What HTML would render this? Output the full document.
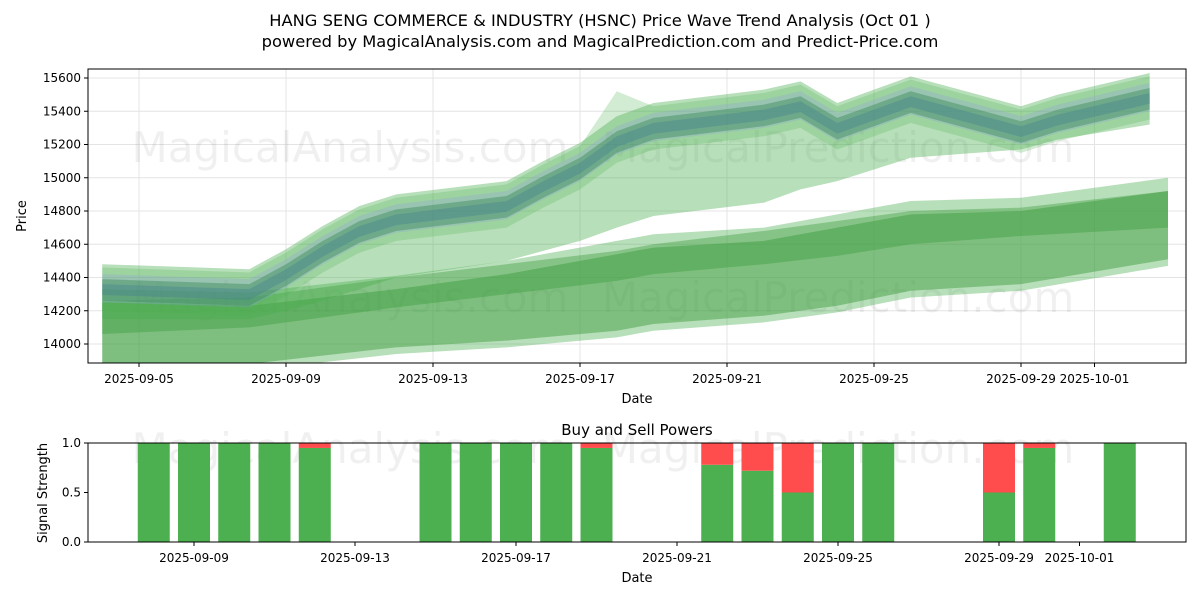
<!DOCTYPE html>
<html><head><meta charset="utf-8"><style>
body{margin:0;background:#fff;width:1200px;height:600px;overflow:hidden;font-family:"Liberation Sans","DejaVu Sans",sans-serif}
svg text{font-family:"DejaVu Sans","Liberation Sans",sans-serif}
</style></head><body>
<svg id="c" width="1200" height="600" xmlns="http://www.w3.org/2000/svg">
<text x="600" y="26" text-anchor="middle" font-size="16.3">HANG SENG COMMERCE &amp; INDUSTRY (HSNC) Price Wave Trend Analysis (Oct 01 )</text>
<text x="600" y="47" text-anchor="middle" font-size="16.3">powered by MagicalAnalysis.com and MagicalPrediction.com and Predict-Price.com</text>
<g id="topg"></g><g id="botg"></g>
</svg>
<script>
// day offsets from 2025-09-05
const bandDays = [-1,3,4,5,6,7,10,11,12,13,14,17,18,19,20,21,24,25,27.5];
const mainCenter = [14330,14300,14420,14560,14680,14750,14830,14950,15060,15220,15300,15380,15430,15300,15380,15460,15280,15350,15480];
const midLower = [14150,14150,14200,14260,14330,14400,14500,14560,14620,14700,14770,14850,14930,14980,15050,15120,15170,15230,15320];
const lowDays = [-1,3,7,10,13,14,17,19,21,24,28];
const lowCLower = [14060,14100,14220,14300,14380,14420,14480,14530,14600,14650,14700];
const lowCUpper = [14260,14280,14400,14480,14560,14600,14680,14740,14800,14820,14920];
const lowDLower = [13880,13880,13980,14020,14080,14120,14170,14230,14320,14360,14510];
const lowDUpper = [14250,14230,14330,14420,14540,14580,14620,14700,14780,14800,14920];
const yTicks = [14000,14200,14400,14600,14800,15000,15200,15400,15600];
const xTickDays = [0,4,8,12,16,20,24,26];
const xTickLabels = ["2025-09-05","2025-09-09","2025-09-13","2025-09-17","2025-09-21","2025-09-25","2025-09-29","2025-10-01"];
// bottom chart (day offsets from 2025-09-05)
const barDays = [3,4,5,6,7,10,11,12,13,14,17,18,19,20,21,24,25,27];
const buyPower = [1,1,1,1,0.95,1,1,1,1,0.95,0.78,0.72,0.5,1,1,0.5,0.95,1];
const bTickDays = [4,8,12,16,20,24,26];
const bTickLabels = ["2025-09-09","2025-09-13","2025-09-17","2025-09-21","2025-09-25","2025-09-29","2025-10-01"];
const sTicks = [0,0.5,1];

const NS="http://www.w3.org/2000/svg";
function mk(p,t,a){const e=document.createElementNS(NS,t);for(const k in a)e.setAttribute(k,a[k]);p.appendChild(e);return e;}
const T={x0:88,x1:1186,y0:69,y1:363};
const xs=d=>139+d*36.75;
const ys=v=>78+(15600-v)*0.16625;
const topG=document.getElementById('topg');
yTicks.forEach(v=>{const l=mk(topG,'line',{x1:T.x0,x2:T.x1,y1:ys(v),y2:ys(v),stroke:'#e4e4e4'});

mk(topG,'line',{x1:T.x0-4,x2:T.x0,y1:ys(v),y2:ys(v),stroke:'#000'});
const t=mk(topG,'text',{x:T.x0-7,y:ys(v)+4,'text-anchor':'end','font-size':12});t.textContent=v;
});
xTickDays.forEach((d,i)=>{const l=mk(topG,'line',{x1:xs(d),x2:xs(d),y1:T.y0,y2:T.y1,stroke:'#e4e4e4'});

mk(topG,'line',{x1:xs(d),x2:xs(d),y1:T.y1,y2:T.y1+4,stroke:'#000'});
const t=mk(topG,'text',{x:xs(d),y:T.y1+20,'text-anchor':'middle','font-size':12});t.textContent=xTickLabels[i];
});
const wmPos=[[350,162],[838,162],[350,312],[838,312]];
wmPos.forEach((p,i)=>{const w=mk(topG,'text',{x:p[0],y:p[1],'text-anchor':'middle','font-size':42,fill:'#000','fill-opacity':0.06});
w.textContent=i%2?'MagicalPrediction.com':'MagicalAnalysis.com';
});
const clip=mk(topG,'clipPath',{id:'cp'});mk(clip,'rect',{x:T.x0,y:T.y0,width:T.x1-T.x0,height:T.y1-T.y0});
const g=mk(topG,'g',{'clip-path':'url(#cp)'});
function band(days,lo,hi,fill,op,name){
 let pts=days.map((d,i)=>xs(d)+','+ys(hi[i]));
 for(let i=days.length-1;i>=0;i--)pts.push(xs(days[i])+','+ys(lo[i]));
 const p=mk(g,'polygon',{points:pts.join(' '),fill:fill,'fill-opacity':op});
 }
band(lowDays,lowDLower.map(v=>v-40),lowDUpper.map(v=>v+80),'#4caf50',0.4,'low-band-outer');
band(lowDays,lowDLower,lowDUpper,'#3a9a3a',0.45,'low-band');
band(lowDays,lowCLower,lowCUpper,'#3a9a3a',0.4,'low-mid-band');
band(bandDays,midLower,mainCenter.map(v=>v+150),'#4caf50',0.4,'mid-band');
band(bandDays,mainCenter.map(v=>v-130),mainCenter.map((v,i)=>v+(i==9?300:130)),'#4caf50',0.25,'upper-wide-band');
band(bandDays,mainCenter.map(v=>v-80),mainCenter.map(v=>v+90),'#8c8cff',0.2,'blue-band');
band(bandDays,mainCenter.map(v=>v-70),mainCenter.map(v=>v+60),'#3b8b5a',0.45,'main-band');
band(bandDays,mainCenter.map(v=>v-35),mainCenter.map(v=>v+30),'#3f7f8f',0.35,'main-core');
mk(topG,'rect',{x:T.x0,y:T.y0,width:T.x1-T.x0,height:T.y1-T.y0,fill:'none',stroke:'#000'});
const xl=mk(topG,'text',{x:637,y:403,'text-anchor':'middle','font-size':13});xl.textContent='Date';

const yl=mk(topG,'text',{x:26,y:216,'text-anchor':'middle','font-size':13,transform:'rotate(-90 26 216)'});yl.textContent='Price';


// bottom
const B={x0:88,x1:1186,y0:443,y1:542};
const bx=d=>194+(d-4)*40.25;
const by=v=>542-v*99;
const botG=document.getElementById('botg');
const bt=mk(botG,'text',{x:637,y:435,'text-anchor':'middle','font-size':15});bt.textContent='Buy and Sell Powers';

[[350,463],[838,463]].forEach((p,i)=>{const w=mk(botG,'text',{x:p[0],y:p[1],'text-anchor':'middle','font-size':42,fill:'#000','fill-opacity':0.06});
w.textContent=i?'MagicalPrediction.com':'MagicalAnalysis.com';
});
barDays.forEach((d,i)=>{const b=buyPower[i];
 const r=mk(botG,'rect',{x:bx(d)-16,y:by(b),width:32,height:by(0)-by(b),fill:'#4caf50'});
 
 if(b<1){const s=mk(botG,'rect',{x:bx(d)-16,y:by(1),width:32,height:by(b)-by(1),fill:'#ff4d4d'});
 }});
mk(botG,'rect',{x:B.x0,y:B.y0,width:B.x1-B.x0,height:B.y1-B.y0,fill:'none',stroke:'#000'});
sTicks.forEach(v=>{mk(botG,'line',{x1:B.x0-4,x2:B.x0,y1:by(v),y2:by(v),stroke:'#000'});
 const t=mk(botG,'text',{x:B.x0-7,y:by(v)+4,'text-anchor':'end','font-size':12});t.textContent=v.toFixed(1);
 });
bTickDays.forEach((d,i)=>{mk(botG,'line',{x1:bx(d),x2:bx(d),y1:B.y1,y2:B.y1+4,stroke:'#000'});
 const t=mk(botG,'text',{x:bx(d),y:B.y1+20,'text-anchor':'middle','font-size':12});t.textContent=bTickLabels[i];
 });
const bxl=mk(botG,'text',{x:637,y:582,'text-anchor':'middle','font-size':13});bxl.textContent='Date';

const byl=mk(botG,'text',{x:47,y:493,'text-anchor':'middle','font-size':13,transform:'rotate(-90 47 493)'});byl.textContent='Signal Strength';

</script>
</body></html>
